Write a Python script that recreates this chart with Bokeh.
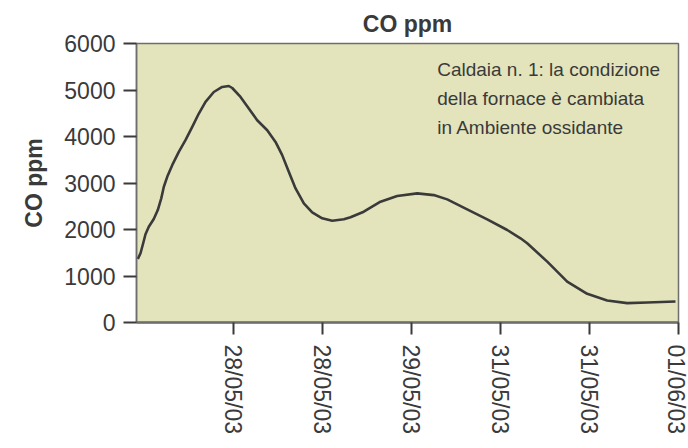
from bokeh.plotting import figure
from bokeh.models import Range1d, Label, FixedTicker
from bokeh.embed import file_html
from bokeh.resources import INLINE
import math

# ---- data (time index, CO ppm) ----
t = [-0.071, -0.041, -0.011, 0.015, 0.052, 0.108, 0.153, 0.192, 0.221, 0.259,
     0.315, 0.389, 0.464, 0.540, 0.614, 0.689, 0.782, 0.876, 0.951, 0.989,
     1.082, 1.175, 1.269, 1.382, 1.475, 1.550, 1.624, 1.700, 1.793, 1.887,
     1.999, 2.112, 2.242, 2.317, 2.466, 2.654, 2.841, 3.066, 3.252, 3.403,
     3.627, 3.852, 4.077, 4.226, 4.301, 4.526, 4.750, 4.975, 5.199, 5.424,
     5.649, 5.966]
co = [1367, 1489, 1704, 1897, 2060, 2225, 2419, 2670, 2919, 3133,
      3384, 3670, 3921, 4206, 4494, 4743, 4957, 5065, 5086, 5043,
      4850, 4601, 4350, 4135, 3884, 3599, 3240, 2884, 2562, 2369,
      2240, 2189, 2219, 2262, 2382, 2597, 2719, 2777, 2740, 2648,
      2434, 2219, 1989, 1811, 1704, 1309, 880, 616, 472, 416,
      429, 451]

tick_pos = [1, 2, 3, 4, 5, 6]
tick_labels = ["28/05/03", "28/05/03", "29/05/03", "31/05/03", "31/05/03", "01/06/03"]
y_ticks = [0, 1000, 2000, 3000, 4000, 5000, 6000]
title_text = "CO ppm"
y_label = "CO ppm"
note = "Caldaia n. 1: la condizione\ndella fornace è cambiata\nin Ambiente ossidante"

FONT = "Liberation Sans"
DARK = "#3a3a3a"

p = figure(width=688, height=448, output_backend="svg", toolbar_location=None,
           x_range=Range1d(-0.086, 6.0), y_range=Range1d(0, 6000),
           min_border_left=136, min_border_right=10, min_border_top=43,
           min_border_bottom=126)

p.border_fill_color = "#ffffff"
p.background_fill_color = "#e3e4bc"
p.outline_line_color = "#6e6e6e"
p.outline_line_width = 1.5
p.grid.visible = False

p.title.text = title_text
p.title.align = "center"
p.title.text_font = FONT
p.title.text_font_size = "23px"
p.title.text_font_style = "bold"
p.title.text_color = DARK
p.title.standoff = 14

p.line(t, co, line_color=DARK, line_width=2.6, line_join="round")

# axes
for ax in (p.xaxis[0], p.yaxis[0]):
    ax.major_label_text_font = FONT
    ax.major_label_text_font_size = "23px"
    ax.major_label_text_color = DARK
    ax.major_tick_line_color = DARK
    ax.major_tick_line_width = 2
    ax.minor_tick_line_color = None
    ax.major_tick_in = 0
    ax.axis_line_color = "#6e6e6e"

p.xaxis.ticker = FixedTicker(ticks=tick_pos)
p.xaxis.major_label_overrides = {k: v for k, v in zip(tick_pos, tick_labels)}
p.xaxis.major_label_orientation = -math.pi / 2
p.xaxis.major_tick_out = 12
p.xaxis.major_label_standoff = 10
p.xaxis.axis_line_width = 2.5

p.yaxis.ticker = FixedTicker(ticks=y_ticks)
p.yaxis.major_tick_out = 13
p.yaxis.major_label_standoff = 8
p.yaxis.axis_line_width = 1.5
p.yaxis.axis_label = y_label
p.yaxis.axis_label_text_font = FONT
p.yaxis.axis_label_text_font_size = "23px"
p.yaxis.axis_label_text_font_style = "bold"
p.yaxis.axis_label_text_color = DARK
p.yaxis.axis_label_standoff = 14

lab = Label(x=3.29, y=5660, text=note, text_baseline="top", text_align="left",
            text_font=FONT, text_font_size="19px", text_color=DARK,
            text_line_height=1.38)
p.add_layout(lab)

open("out.html", "w").write(file_html(p, INLINE))
